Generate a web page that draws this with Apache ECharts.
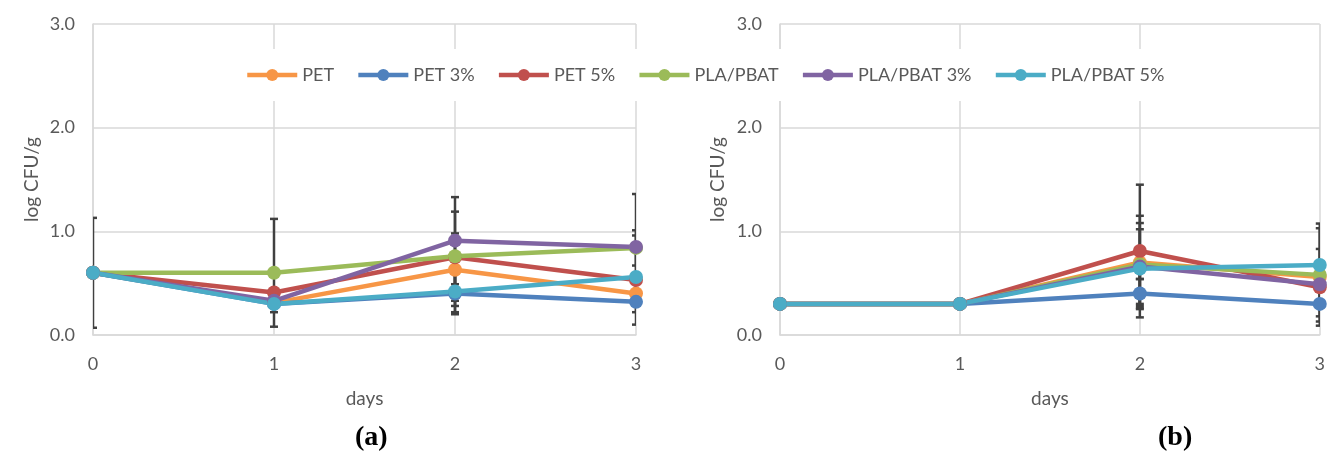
<!DOCTYPE html>
<html>
<head>
<meta charset="utf-8">
<script src="https://cdn.jsdelivr.net/npm/echarts@6/dist/echarts.min.js"></script>
<style>html,body{margin:0;padding:0;background:#fff}#c{width:1328px;height:460px}</style>
</head>
<body>
<div id="c"></div>
<script>
// ---- data ----
const days = [0, 1, 2, 3];
const seriesNames = ['PET', 'PET 3%', 'PET 5%', 'PLA/PBAT', 'PLA/PBAT 3%', 'PLA/PBAT 5%'];
const yTicks = [0, 1, 2, 3];

// panel (a) means
const a_PET      = [0.60, 0.31, 0.63, 0.40];
const a_PET3     = [0.60, 0.30, 0.40, 0.32];
const a_PET5     = [0.60, 0.41, 0.75, 0.53];
const a_PLA      = [0.60, 0.60, 0.76, 0.84];
const a_PLA3     = [0.60, 0.33, 0.91, 0.85];
const a_PLA5     = [0.60, 0.30, 0.42, 0.56];
// panel (a) error (±)
const a_PET_err  = [0.53, 0.00, 0.35, 0.10];
const a_PET3_err = [0.00, 0.00, 0.20, 0.10];
const a_PET5_err = [0.00, 0.00, 0.00, 0.43];
const a_PLA_err  = [0.00, 0.52, 0.43, 0.17];
const a_PLA3_err = [0.00, 0.00, 0.42, 0.51];
const a_PLA5_err = [0.00, 0.08, 0.20, 0.00];

// panel (b) means
const b_PET      = [0.30, 0.30, 0.70, 0.56];
const b_PET3     = [0.30, 0.30, 0.40, 0.30];
const b_PET5     = [0.30, 0.30, 0.81, 0.46];
const b_PLA      = [0.30, 0.30, 0.68, 0.58];
const b_PLA3     = [0.30, 0.30, 0.66, 0.49];
const b_PLA5     = [0.30, 0.30, 0.64, 0.675];
// panel (b) error (±)
const b_PET_err  = [0.00, 0.00, 0.45, 0.00];
const b_PET3_err = [0.00, 0.00, 0.14, 0.12];
const b_PET5_err = [0.00, 0.00, 0.64, 0.37];
const b_PLA_err  = [0.00, 0.00, 0.40, 0.45];
const b_PLA3_err = [0.00, 0.00, 0.36, 0.00];
const b_PLA5_err = [0.00, 0.00, 0.10, 0.40];

// ---- styling ----
const colors = ['#F79646', '#4F81BD', '#C0504D', '#9BBB59', '#8064A2', '#4BACC6'];
const FONT = 'Lato, "Open Sans", sans-serif';
const TXT = '#595959';
const GRIDC = '#D9D9D9';

const panelA = [a_PET, a_PET3, a_PET5, a_PLA, a_PLA3, a_PLA5];
const panelAErr = [a_PET_err, a_PET3_err, a_PET5_err, a_PLA_err, a_PLA3_err, a_PLA5_err];
const panelB = [b_PET, b_PET3, b_PET5, b_PLA, b_PLA3, b_PLA5];
const panelBErr = [b_PET_err, b_PET3_err, b_PET5_err, b_PLA_err, b_PLA3_err, b_PLA5_err];

function xAxisCfg(gi) {
  return {
    type: 'value', gridIndex: gi, min: 0, max: 3, interval: 1,
    name: 'days', nameLocation: 'middle', nameGap: 54,
    nameTextStyle: { color: TXT, fontFamily: FONT, fontSize: 19 },
    axisLine: { show: true, lineStyle: { color: GRIDC, width: 1.5 } },
    axisTick: { show: false },
    axisLabel: { color: TXT, fontFamily: FONT, fontSize: 18, margin: 20 },
    splitLine: { show: true, lineStyle: { color: GRIDC, width: 1.5 } }
  };
}
function yAxisCfg(gi, gap) {
  return {
    type: 'value', gridIndex: gi, min: 0, max: 3, interval: 1,
    name: 'log CFU/g', nameLocation: 'middle', nameGap: gap,
    nameTextStyle: { color: TXT, fontFamily: FONT, fontSize: 19 },
    axisLine: { show: true, lineStyle: { color: GRIDC, width: 1.5 } },
    axisTick: { show: false },
    axisLabel: { color: TXT, fontFamily: FONT, fontSize: 18, margin: 18, formatter: v => v.toFixed(1) },
    splitLine: { show: true, lineStyle: { color: GRIDC, width: 1.5 } }
  };
}

function errRender(params, api) {
  const x = api.value(0), lo = api.value(1), hi = api.value(2);
  const pt = api.coord([x, hi]);
  const pb = api.coord([x, lo]);
  const w = 4;
  const st = { stroke: '#404040', lineWidth: 2.5 };
  return {
    type: 'group',
    children: [
      { type: 'line', shape: { x1: pt[0], y1: pt[1], x2: pb[0], y2: pb[1] }, style: st },
      { type: 'line', shape: { x1: pt[0] - w, y1: pt[1], x2: pt[0] + w, y2: pt[1] }, style: st },
      { type: 'line', shape: { x1: pb[0] - w, y1: pb[1], x2: pb[0] + w, y2: pb[1] }, style: st }
    ]
  };
}

const series = [];
[[panelA, panelAErr, 0], [panelB, panelBErr, 1]].forEach(([vals, errs, gi]) => {
  const errData = [];
  vals.forEach((arr, si) => {
    arr.forEach((v, i) => {
      const e = errs[si][i];
      if (e > 0) errData.push([days[i], v - e, v + e]);
    });
  });
  series.push({
    type: 'custom', name: 'err' + gi, xAxisIndex: gi, yAxisIndex: gi,
    renderItem: errRender, data: errData, clip: true, z: 1,
    encode: { x: 0, y: [1, 2] }, silent: true
  });
  vals.forEach((arr, si) => {
    series.push({
      type: 'line', name: seriesNames[si], xAxisIndex: gi, yAxisIndex: gi,
      data: arr.map((v, i) => [days[i], v]),
      symbol: 'circle', symbolSize: 14, clip: false, z: 3,
      color: colors[si],
      lineStyle: { width: 4.5, color: colors[si] },
      itemStyle: { color: colors[si] }
    });
  });
});

const chart = echarts.init(document.getElementById('c'), null, { renderer: 'canvas' });
chart.setOption({
  animation: false,
  backgroundColor: '#fff',
  grid: [
    { left: 93, right: 692, top: 24, bottom: 125 },
    { left: 780, right: 6, top: 24, bottom: 125 }
  ],
  xAxis: [xAxisCfg(0), xAxisCfg(1)],
  yAxis: [yAxisCfg(0, 52), yAxisCfg(1, 53)],
  legend: {
    data: seriesNames,
    left: 237, top: 49,
    padding: [17, 8],
    backgroundColor: '#fff',
    itemWidth: 50, itemHeight: 15, itemGap: 22,
    lineStyle: { width: 4.5 },
    textStyle: { color: TXT, fontFamily: FONT, fontSize: 18 },
    z: 10
  },
  graphic: [
    { type: 'text', left: 355, top: 424, style: { text: '(a)', font: 'bold 28px "Liberation Serif", serif', fill: '#000' } },
    { type: 'text', left: 1158, top: 424, style: { text: '(b)', font: 'bold 28px "Liberation Serif", serif', fill: '#000' } }
  ],
  series: series
});
</script>
</body>
</html>
